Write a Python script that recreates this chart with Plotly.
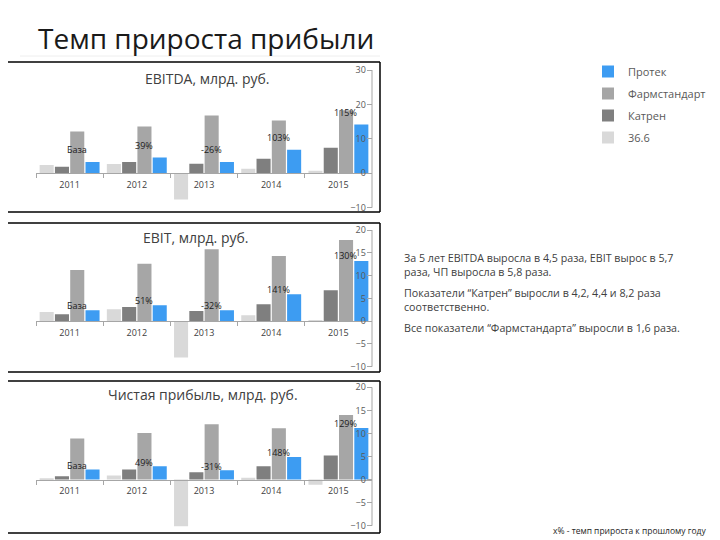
import plotly.graph_objects as go

W, H = 720, 540
OFF = 8  # page body margin around the plot div

years = ["2011", "2012", "2013", "2014", "2015"]
companies = ["36.6", "Катрен", "Фармстандарт", "Протек"]
colors = ["#d9d9d9", "#7f7f7f", "#a6a6a6", "#3d9cf2"]
legend_rank = [4, 3, 2, 1]

# млрд. руб.
ebitda = {
    "36.6": [2.4, 2.7, -7.6, 1.3, 0.7],
    "Катрен": [1.9, 3.3, 2.8, 4.2, 7.4],
    "Фармстандарт": [12.1, 13.6, 16.8, 15.3, 18.3],
    "Протек": [3.3, 4.6, 3.3, 6.8, 14.2],
}
ebit = {
    "36.6": [2.0, 2.6, -8.0, 1.3, 0.1],
    "Катрен": [1.5, 3.1, 2.2, 3.7, 6.8],
    "Фармстандарт": [11.2, 12.6, 15.8, 14.3, 17.8],
    "Протек": [2.4, 3.5, 2.4, 5.9, 13.2],
}
net = {
    "36.6": [0.1, 0.9, -10.1, 0.4, -1.1],
    "Катрен": [0.7, 2.2, 1.6, 2.9, 5.2],
    "Фармстандарт": [8.9, 10.1, 12.0, 11.1, 14.0],
    "Протек": [2.2, 2.9, 2.0, 4.9, 11.2],
}

ebitda_growth = ["База", "39%", "-26%", "103%", "115%"]
ebit_growth = ["База", "51%", "-32%", "141%", "130%"]
net_growth = ["База", "49%", "-31%", "148%", "129%"]


def px(x):
    return (x - OFF) / W


def py(y):
    return 1 - (y - OFF) / H


panels = [
    dict(title="EBITDA, млрд. руб.", data=ebitda, growth=ebitda_growth,
         rng=[-10, 30], dtick=10, top=70, bottom=207.7, box=(62, 212),
         title_xy=(207, 78), lab_shift=12),
    dict(title="EBIT, млрд. руб.", data=ebit, growth=ebit_growth,
         rng=[-10, 20], dtick=5, top=230, bottom=366.7, box=(223, 372),
         title_xy=(196, 237), lab_shift=5),
    dict(title="Чистая прибыль, млрд. руб.", data=net, growth=net_growth,
         rng=[-10, 20], dtick=5, top=387.3, bottom=525.7, box=(381, 533),
         title_xy=(203, 394), lab_shift=4),
]

FONT = "Open Sans"
AXIS_COLOR = "#a6a6a6"
PAD = 7  # px of extra room so the end tick labels are not dropped
x_dom = [px(36), px(372)]

fig = go.Figure()
layout = dict(
    width=W, height=H,
    margin=dict(l=0, r=0, t=0, b=0),
    paper_bgcolor="white", plot_bgcolor="rgba(0,0,0,0)",
    barmode="group", bargap=0.09, bargroupgap=0.08,
    font=dict(family=FONT, color="#404040"),
    showlegend=True,
    legend=dict(
        x=px(588), y=py(57), xanchor="left", yanchor="top",
        traceorder="grouped", tracegroupgap=3,
        font=dict(size=11, color="#595959"),
        itemwidth=30, bgcolor="rgba(0,0,0,0)",
    ),
)
annotations = []
shapes = []

for i, p in enumerate(panels, start=1):
    suf = "" if i == 1 else str(i)
    xa, ya = "x" + suf, "y" + suf
    for name, col, rank in zip(companies, colors, legend_rank):
        fig.add_trace(go.Bar(
            x=years, y=p["data"][name], name=name,
            marker=dict(color=col, line=dict(width=0)),
            xaxis=xa, yaxis=ya, legendrank=rank,
            legendgroup=name, showlegend=(i == 1),
        ))

    lo, hi = p["rng"]
    unit_px = (p["bottom"] - p["top"]) / (hi - lo)
    pad_u = PAD / unit_px
    d0, d1 = py(p["bottom"] + PAD), py(p["top"] - PAD)
    zero_pos = py(p["top"] + hi * unit_px)

    layout["xaxis" + suf] = dict(
        domain=x_dom, anchor="free", position=zero_pos,
        type="category", range=[-0.5, len(years) - 0.5], autorange=False,
        showgrid=False, zeroline=False,
        showline=True, linecolor=AXIS_COLOR, linewidth=1,
        ticks="outside", tickson="boundaries", ticklen=4, tickcolor=AXIS_COLOR,
        tickfont=dict(size=9, color="#404040"), tickangle=0,
        ticklabelstandoff=3,
    )
    layout["yaxis" + suf] = dict(
        domain=[d0, d1], anchor=xa, side="right",
        range=[lo - pad_u, hi + pad_u], autorange=False,
        tickvals=list(range(lo, hi + 1, p["dtick"])),
        showgrid=False, zeroline=False, showline=False,
        ticks="inside", ticklen=5, tickcolor=AXIS_COLOR,
        ticklabelposition="inside",
        tickfont=dict(size=9, color="#595959"),
    )
    # value axis line only between the end ticks
    shapes.append(dict(type="line", xref=xa + " domain", yref=ya,
                       x0=1, x1=1, y0=lo, y1=hi,
                       line=dict(color=AXIS_COLOR, width=1)))

    # growth labels over the Фармстандарт bar, just above Протек
    for k, (txt, v) in enumerate(zip(p["growth"], p["data"]["Протек"])):
        annotations.append(dict(
            xref=xa, yref=ya, x=k, y=v, text=txt, showarrow=False,
            xshift=7, yshift=p["lab_shift"], yanchor="middle",
            font=dict(size=9, color="#1a1a1a"),
        ))

    tx, ty = p["title_xy"]
    annotations.append(dict(
        xref="paper", yref="paper", x=px(tx), y=py(ty),
        text=p["title"], showarrow=False, xanchor="center", yanchor="middle",
        font=dict(size=14, color="#404040"),
    ))

    top, bot = p["box"]
    for y_px in (top, bot):
        shapes.append(dict(type="line", xref="paper", yref="paper",
                           x0=0, x1=px(380), y0=py(y_px), y1=py(y_px),
                           line=dict(color="black", width=1.5)))
    shapes.append(dict(type="line", xref="paper", yref="paper",
                       x0=px(380), x1=px(380), y0=py(top), y1=py(bot),
                       line=dict(color="black", width=1.5)))

# slide title
annotations.append(dict(
    xref="paper", yref="paper", x=px(36), y=py(38),
    text="Темп прироста прибыли", showarrow=False,
    xanchor="left", yanchor="middle",
    font=dict(size=28, color="#1a1a1a"),
))
shapes.append(dict(type="line", xref="paper", yref="paper",
                   x0=px(20), x1=px(380), y0=py(56), y1=py(56),
                   line=dict(color="#eeeeee", width=1)))

# comments on the right
notes = [
    ("За 5 лет EBITDA выросла в 4,5 раза, EBIT вырос в 5,7<br>раза, ЧП выросла в 5,8 раза.", 265),
    ("Показатели “Катрен” выросли в 4,2, 4,4 и 8,2 раза<br>соответственно.", 300),
    ("Все показатели “Фармстандарта” выросли в 1,6 раза.", 328),
]
for txt, y_px in notes:
    annotations.append(dict(
        xref="paper", yref="paper", x=px(402), y=py(y_px),
        text=txt, showarrow=False, xanchor="left", yanchor="middle",
        align="left", font=dict(size=10.7, color="#404040"),
    ))

annotations.append(dict(
    xref="paper", yref="paper", x=px(708), y=py(530),
    text="x% - темп прироста к прошлому году", showarrow=False,
    xanchor="right", yanchor="middle",
    font=dict(size=8.5, color="#262626"),
))

layout["annotations"] = annotations
layout["shapes"] = shapes
fig.update_layout(**layout)

fig.write_html("out.html")
